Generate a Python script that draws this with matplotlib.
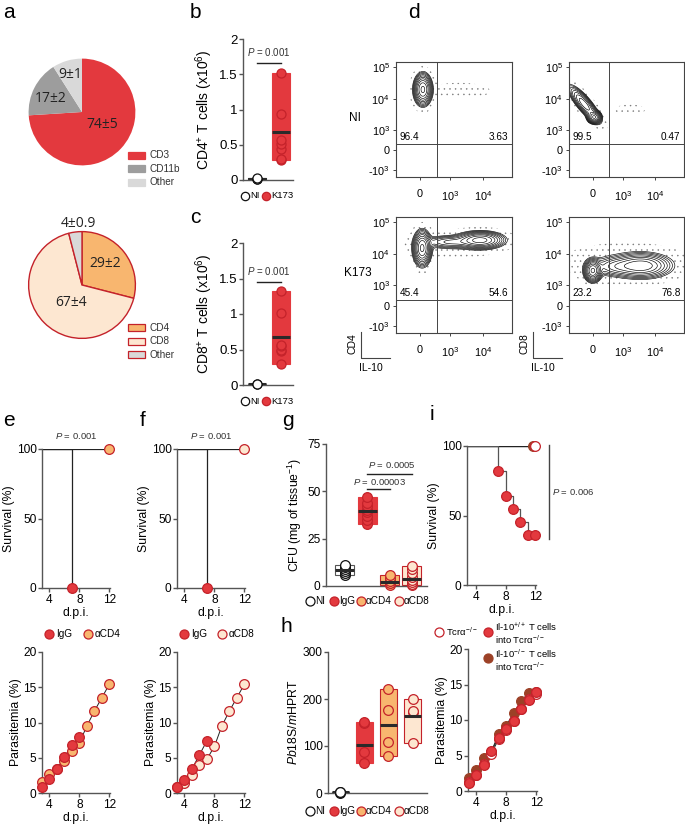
import numpy as np
import matplotlib
matplotlib.use('Agg')
import matplotlib.pyplot as plt
from matplotlib.lines import Line2D
from matplotlib.patches import Rectangle

plt.rcParams['font.family'] = ['Liberation Sans', 'DejaVu Sans']
plt.rcParams['mathtext.fontset'] = 'custom'
plt.rcParams['mathtext.rm'] = 'Liberation Sans'
plt.rcParams['mathtext.it'] = 'Liberation Sans:italic'
plt.rcParams['hatch.linewidth'] = 0.3
plt.rcParams['hatch.color'] = '#777777'

# ---------------- data ----------------
# a: pies
pie1_labels = ['CD3', 'CD11b', 'Other']
pie1_values = [74, 17, 9]
pie1_text = ['74±5', '17±2', '9±1']
pie2_labels = ['CD4', 'CD8', 'Other']
pie2_values = [29, 67, 4]
pie2_text = ['29±2', '67±4', '4±0.9']

# b, c: T cell counts (x10^6)
b_ni = [0.01, 0.02, 0.03]
b_k173 = [0.28, 0.30, 0.44, 0.51, 0.57, 0.94, 1.52]
b_med = [0.02, 0.68]
c_ni = [0.01, 0.02]
c_k173 = [0.29, 0.48, 0.50, 0.55, 0.56, 1.02, 1.33]
c_med = [0.01, 0.68]

# d: flow blobs (cx, cy, sx, sy, angle, weight) in asinh display units
flow_ni_cd4 = [(0.2, 4.35, 0.28, 0.5, 0, 1.0), (2.7, 4.25, 1.3, 0.35, 0, 0.012)]
flow_ni_cd8 = [(-0.6, 3.3, 0.75, 0.22, -51, 0.8), (0.1, 2.35, 0.22, 0.2, 0, 1.2),
               (2.6, 2.9, 1.3, 0.45, 0, 0.006)]
flow_k_cd4 = [(0.15, 4.1, 0.28, 0.55, 0, 1.0), (4.2, 4.68, 0.75, 0.28, 0, 0.75),
              (2.1, 4.55, 0.9, 0.22, 0, 0.22), (2.5, 4.4, 1.8, 0.5, 0, 0.02)]
flow_k_cd8 = [(0.0, 2.5, 0.27, 0.35, 0, 1.0), (3.4, 2.85, 0.95, 0.4, 0, 0.6),
              (1.6, 2.8, 0.8, 0.33, 0, 0.2), (2.3, 3.0, 2.2, 0.7, 0, 0.03)]
flow_quads = [('96.4', '3.63'), ('99.5', '0.47'), ('45.4', '54.6'), ('23.2', '76.8')]

# e, f: survival
km_igg_days = [3, 7]
km_igg_surv = [100, 0]
km_ab_days = [3, 12]
km_ab_surv = [100, 100]

# e, f: parasitemia
para_days = [3, 4, 5, 6, 7, 8, 9, 10, 11, 12]
e_igg = [0.8, 2.0, 3.4, 5.1, 6.8, 7.9]
e_igg_err = [0.2, 0.3, 0.3, 0.5, 0.5, 0.4]
e_cd4 = [1.5, 2.7, 3.4, 4.6, 5.9, 7.1, 9.5, 11.6, 13.5, 15.4]
e_cd4_err = [0.2, 0.3, 0.3, 0.5, 0.5, 0.5, 0.6, 0.6, 0.5, 0.4]
f_igg = [0.8, 1.9, 3.4, 5.4, 7.4]
f_igg_err = [0.2, 0.3, 0.4, 0.4, 0.4]
f_cd8 = [0.8, 1.4, 2.5, 4.0, 4.8, 6.6, 9.5, 11.6, 13.5, 15.4]
f_cd8_err = [0.2, 0.3, 0.3, 0.4, 0.4, 0.5, 0.5, 0.5, 0.4, 0.4]

# g: CFU
g_groups = ['NI', 'IgG', 'αCD4', 'αCD8']
g_vals = [[6, 7, 8, 9, 10, 11],
          [33, 35, 37, 39, 40, 42, 44, 47],
          [0.5, 1.5, 2.5, 4.0, 6.0],
          [0.3, 1.0, 2.0, 3.3, 4.5, 6.9, 9.0, 10.5]]
g_med = [8.5, 39.6, 2.3, 3.5]

# h: Pb18S/mHPRT
h_vals = [[1, 2, 3],
          [64, 88, 150, 152],
          [78, 108, 177, 221],
          [107, 172, 174, 200]]
h_med = [2, 103, 145, 163]

# i: survival
i_tcr_days = [3, 12]
i_tcr_surv = [100, 100]
i_ko_days = [3, 11.7]
i_ko_surv = [100, 100]
i_wt_days = [3, 7, 8, 9, 10, 11, 12]
i_wt_surv = [100, 82, 64, 55, 45, 36, 36]

# i: parasitemia
i_days = [3, 4, 5, 6, 7, 8, 9, 10, 11, 12]
i_ko = [1.8, 2.9, 4.6, 5.5, 8.0, 9.2, 11.0, 12.7, 13.8, 13.9]
i_tcr = [1.2, 2.3, 3.8, 5.2, 7.3, 8.6, 9.9, 11.5, 12.9, 13.7]
i_wt = [1.1, 2.2, 3.6, 5.6, 7.5, 8.8, 9.8, 11.5, 12.8, 13.9]
i_err = [0.3, 0.3, 0.4, 0.4, 0.5, 0.5, 0.5, 0.6, 0.5, 0.4]

# ---------------- colours ----------------
RED = '#e3393e'
RED_EDGE = '#c4222a'
ORANGE = '#f8b66f'
PEACH = '#fde7d1'
BROWN = '#9c4127'
GREY = '#9d9d9d'
LGREY = '#d9d9d9'
SPINE = '#555555'

TICK = 8.6
LABEL = 8.8

W, H = 685, 827
fig = plt.figure(figsize=(W / 100, H / 100), dpi=100)


def rect(x0, y0, x1, y1):
    return [x0 / W, 1 - y1 / H, (x1 - x0) / W, (y1 - y0) / H]


def ftext(x, y, s, **kw):
    fig.text(x / W, 1 - y / H, s, **kw)


def fmarker(x, y, face, edge, ms=6.5):
    fig.add_artist(Line2D([x / W], [1 - y / H], marker='o', ms=ms, mfc=face, mec=edge,
                          mew=0.9, ls='none', transform=fig.transFigure))


def style(ax, size=TICK):
    for s in ['top', 'right']:
        ax.spines[s].set_visible(False)
    for s in ['left', 'bottom']:
        ax.spines[s].set_color(SPINE)
        ax.spines[s].set_linewidth(1.0)
    ax.tick_params(length=3, width=1.0, color=SPINE, labelsize=size, pad=1)


def panel(x, y, s):
    ftext(x, y, s, fontsize=15, va='baseline', ha='left')


# ---------------- a ----------------
panel(3, 18, 'a')


def draw_pie(r, values, colors, edge, lw, texts, tpos, labels, leg_y):
    ax = fig.add_axes(rect(*r))
    ax.pie(values, colors=colors, startangle=90, counterclock=False,
           wedgeprops=dict(edgecolor=edge, linewidth=lw))
    ax.set_xlim(-1.03, 1.03)
    ax.set_ylim(-1.03, 1.03)
    ax.set_aspect('equal')
    ax.axis('off')
    for t, (tx, ty) in zip(texts, tpos):
        ax.text(tx, ty, t, ha='center', va='center', fontsize=10,
                family=['Open Sans', 'DejaVu Sans'], color='#222222', clip_on=False)
    for i, (lab, col) in enumerate(zip(labels, colors)):
        yy = leg_y + i * 13.5
        fig.add_artist(Rectangle((128 / W, 1 - (yy + 3.5) / H), 17 / W, 7 / H,
                                 facecolor=col, edgecolor=edge if lw > 0 else col,
                                 lw=0.9, transform=fig.transFigure))
        ftext(149, yy, lab, fontsize=7.2, va='center', color='#333333')


draw_pie((27, 57, 137, 167), pie1_values, [RED, GREY, LGREY], 'none', 0,
         pie1_text, [(0.38, -0.24), (-0.58, 0.25), (-0.22, 0.7)], pie1_labels, 155)
draw_pie((27, 230, 137, 340), pie2_values, [ORANGE, PEACH, LGREY], RED_EDGE, 1.0,
         pie2_text, [(0.44, 0.4), (-0.2, -0.33), (-0.07, 1.15)], pie2_labels, 328)


# ---------------- b, c ----------------
def float_group(ax, x, vals, med, face, edge, pface, pedge, width, ms, med_top=True):
    lo, hi = min(vals), max(vals)
    ax.bar(x, hi - lo, bottom=lo, width=width, color=face, edgecolor=edge,
           linewidth=0.8, zorder=2)
    ax.plot([x - width / 2, x + width / 2], [med, med], color='#2a2a2a', lw=2.2,
            zorder=5 if med_top else 3, solid_capstyle='butt')
    ax.plot([x] * len(vals), vals, 'o', ms=ms, mfc=pface, mec=pedge, mew=0.9,
            zorder=4, clip_on=False)


def counts_panel(r, ni, k173, med, ylab, p_y, lab, leg_y, letter):
    ax = fig.add_axes(rect(*r))
    style(ax, size=9.5)
    float_group(ax, 0, ni, med[0], 'white', '#222222', 'white', '#111111', 0.75, 6.5,
                med_top=False)
    float_group(ax, 1, k173, med[1], RED, RED, RED, RED_EDGE, 0.75, 6.5)
    ax.set_xlim(-0.58, 1.5)
    ax.set_ylim(0, 2)
    ax.set_yticks([0, 0.5, 1, 1.5, 2])
    ax.set_yticklabels(['0', '0.5', '1', '1.5', '2'])
    ax.set_xticks([])
    ax.set_ylabel(ylab, fontsize=10, labelpad=3)
    ax.plot([0, 1], [p_y, p_y], color='#222222', lw=1.0, clip_on=False)
    ax.text(0.5, p_y + 0.07, r'$P$ = 0.001', ha='center', va='bottom', fontsize=7,
            color='#333333')
    fmarker(245, leg_y, 'white', '#111111', ms=6)
    ftext(250, leg_y, 'NI', fontsize=6.8, va='center')
    fmarker(266, leg_y, RED, RED_EDGE, ms=6)
    ftext(271, leg_y, 'K173', fontsize=6.8, va='center')
    panel(190, lab, letter)


counts_panel((243, 39, 293, 180), b_ni, b_k173, b_med,
             r'CD4$^{+}$ T cells (x10$^{6}$)', 1.66, 18, 196, 'b')
counts_panel((243, 243, 293, 385), c_ni, c_k173, c_med,
             r'CD8$^{+}$ T cells (x10$^{6}$)', 1.45, 223, 401, 'c')

# ---------------- d ----------------
panel(408, 18, 'd')


def ux(v):
    return np.arcsinh(np.asarray(v, float) / 250)


def uy(v):
    return np.arcsinh(np.asarray(v, float) / 500)


def flow_panel(r, comps, quad):
    ax = fig.add_axes(rect(*r))
    gx = np.linspace(-1.67, 6.4, 320)
    gy = np.linspace(-2.0, 6.35, 320)
    X, Y = np.meshgrid(gx, gy)
    Z = np.zeros_like(X)
    for cx, cy, sx, sy, ang, w in comps:
        t = np.deg2rad(ang)
        dx, dy = X - cx, Y - cy
        a = dx * np.cos(t) + dy * np.sin(t)
        b = -dx * np.sin(t) + dy * np.cos(t)
        Z += w * np.exp(-0.5 * ((a / sx) ** 2 + (b / sy) ** 2))
    zm = Z.max()
    ax.contourf(X, Y, Z, levels=[zm * 0.003, zm * 0.035], colors='none',
                hatches=['...'])
    ax.contour(X, Y, Z, levels=zm * np.geomspace(0.035, 0.9, 10), colors='k',
               linewidths=0.45)
    gate_x, gate_y = 1.15, 0.43
    ax.axvline(gate_x, color='#444444', lw=0.7)
    ax.axhline(gate_y, color='#444444', lw=0.7)
    ax.text(0.03, gate_y + 0.15, quad[0], transform=ax.get_yaxis_transform(),
            fontsize=7.2, va='bottom', ha='left')
    ax.text(0.97, gate_y + 0.15, quad[1], transform=ax.get_yaxis_transform(),
            fontsize=7.2, va='bottom', ha='right')
    ax.set_xlim(-1.67, 6.4)
    ax.set_ylim(-1.95, 6.33)
    ax.set_xticks(ux([0, 1e3, 1e4]))
    ax.set_xticklabels(['0', r'10$^{3}$', r'10$^{4}$'])
    ax.set_yticks(uy([-1e3, 0, 1e3, 1e4, 1e5]))
    ax.set_yticklabels([r'-10$^{3}$', '0', r'10$^{3}$', r'10$^{4}$', r'10$^{5}$'])
    for s in ax.spines.values():
        s.set_linewidth(0.8)
        s.set_color('#444444')
    ax.tick_params(length=2.5, width=0.7, labelsize=7.8, pad=2, color='#444444')
    ax.tick_params(axis='x', pad=6)
    return ax


flow_panel((396, 62, 512, 177), flow_ni_cd4, flow_quads[0])
flow_panel((569, 62, 684, 177), flow_ni_cd8, flow_quads[1])
flow_panel((396, 217, 512, 333), flow_k_cd4, flow_quads[2])
flow_panel((569, 217, 684, 333), flow_k_cd8, flow_quads[3])
ftext(355, 118, 'NI', fontsize=8.5, ha='center', va='center')
ftext(358, 273, 'K173', fontsize=8.5, ha='center', va='center')
for x0, lab in [(361, 'CD4'), (533, 'CD8')]:
    fig.add_artist(Line2D([x0 / W, x0 / W, (x0 + 29) / W],
                          [1 - 332 / H, 1 - 358 / H, 1 - 358 / H],
                          color='#444444', lw=0.8, transform=fig.transFigure))
    ftext(x0 - 8, 344, lab, fontsize=7.5, rotation=90, ha='center', va='center')
    ftext(x0 + 10, 368, 'IL-10', fontsize=7.5, ha='center', va='center')


# ---------------- e, f ----------------
def survival_panel(r, ab_face):
    ax = fig.add_axes(rect(*r))
    style(ax)
    ax.plot(km_ab_days, km_ab_surv, drawstyle='steps-post', color='#222222', lw=0.9)
    ax.plot(km_igg_days, km_igg_surv, drawstyle='steps-post', color='#222222', lw=0.9)
    ax.plot(km_ab_days[-1], km_ab_surv[-1], 'o', ms=7, mfc=ab_face, mec=RED_EDGE,
            mew=0.9, clip_on=False, zorder=5)
    ax.plot(km_igg_days[-1], km_igg_surv[-1], 'o', ms=7, mfc=RED, mec=RED_EDGE,
            mew=0.9, clip_on=False, zorder=5)
    ax.set_xlim(3, 12.1)
    ax.set_ylim(0, 100)
    ax.set_xticks([4, 8, 12])
    ax.set_yticks([0, 50, 100])
    ax.set_ylabel('Survival (%)', fontsize=LABEL, labelpad=1)
    ax.set_xlabel('d.p.i.', fontsize=LABEL, labelpad=1)
    return ax


def para_panel(r, igg, igg_err, ab, ab_err, ab_face):
    ax = fig.add_axes(rect(*r))
    style(ax)
    for vals, err, face in [(ab, ab_err, ab_face), (igg, igg_err, RED)]:
        d = para_days[:len(vals)]
        ax.errorbar(d, vals, yerr=err, color='#222222', lw=0.7, elinewidth=0.7,
                    capsize=0, zorder=3)
        ax.plot(d, vals, 'o', ms=7, mfc=face, mec=RED_EDGE, mew=0.9, zorder=4,
                clip_on=False)
    ax.set_xlim(3, 12.1)
    ax.set_ylim(0, 20)
    ax.set_xticks([4, 8, 12])
    ax.set_yticks([0, 5, 10, 15, 20])
    ax.set_ylabel('Parasitemia (%)', fontsize=LABEL, labelpad=1)
    ax.set_xlabel('d.p.i.', fontsize=LABEL, labelpad=1)
    return ax


panel(3, 426, 'e')
survival_panel((42, 449, 110, 588), ORANGE)
ftext(76, 436, r'$P$ = 0.001', fontsize=6.8, ha='center', va='center', color='#333333')
para_panel((42, 652, 110, 793), e_igg, e_igg_err, e_cd4, e_cd4_err, ORANGE)
fmarker(49, 634, RED, RED_EDGE)
ftext(56, 634, 'IgG', fontsize=7.2, va='center')
fmarker(88, 634, ORANGE, RED_EDGE)
ftext(95, 634, 'αCD4', fontsize=7.2, va='center')

panel(140, 426, 'f')
survival_panel((177, 449, 245, 588), PEACH)
ftext(211, 436, r'$P$ = 0.001', fontsize=6.8, ha='center', va='center', color='#333333')
para_panel((177, 652, 245, 793), f_igg, f_igg_err, f_cd8, f_cd8_err, PEACH)
fmarker(184, 634, RED, RED_EDGE)
ftext(191, 634, 'IgG', fontsize=7.2, va='center')
fmarker(222, 634, PEACH, RED_EDGE)
ftext(229, 634, 'αCD8', fontsize=7.2, va='center')

# ---------------- g, h ----------------
group_style = [('white', '#555555', 'white', '#111111'),
               (RED, RED, RED, RED_EDGE),
               (ORANGE, RED_EDGE, ORANGE, RED_EDGE),
               (PEACH, RED_EDGE, PEACH, RED_EDGE)]


def group_legend(y):
    xs = [310, 334, 361, 399]
    for x, (bf, be, pf, pe), g in zip(xs, group_style, g_groups):
        fmarker(x, y, pf, pe, ms=6.5)
        ftext(x + 5, y, g, fontsize=7.2, va='center')


panel(282, 426, 'g')
ax = fig.add_axes(rect(326, 444, 427, 586))
style(ax)
for i, (vals, med, st) in enumerate(zip(g_vals, g_med, group_style)):
    float_group(ax, i, vals, med, st[0], st[1], st[2], st[3], 0.85, 7)
ax.set_xlim(-0.85, 3.68)
ax.set_ylim(0, 75)
ax.set_xticks([])
ax.set_yticks([0, 25, 50, 75])
ax.set_ylabel(r'CFU (mg of tissue$^{-1}$)', fontsize=LABEL, labelpad=2)
ax.plot([1, 2], [51, 51], color='#222222', lw=1.0, clip_on=False)
ax.plot([1, 3], [59, 59], color='#222222', lw=1.0, clip_on=False)
ax.text(1.57, 52.5, r'$P$ = 0.00003', ha='center', va='bottom', fontsize=6.8,
        color='#333333')
ax.text(2.1, 61.5, r'$P$ = 0.0005', ha='center', va='bottom', fontsize=6.8,
        color='#333333')
group_legend(601)

panel(280, 632, 'h')
ax = fig.add_axes(rect(328, 652, 427, 793))
style(ax)
for i, (vals, med, st) in enumerate(zip(h_vals, h_med, group_style)):
    float_group(ax, i, vals, med, st[0], st[1], st[2], st[3], 0.7, 7,
                med_top=(i != 0))
ax.set_xlim(-0.5, 3.6)
ax.set_ylim(0, 300)
ax.set_xticks([])
ax.set_yticks([0, 100, 200, 300])
ax.set_ylabel(r'$Pb$18S/$m$HPRT', fontsize=LABEL, labelpad=2)
group_legend(811)

# ---------------- i ----------------
panel(430, 420, 'i')
ax = fig.add_axes(rect(467, 446, 536, 585))
style(ax)
ax.plot(i_ko_days, i_ko_surv, drawstyle='steps-post', color='#222222', lw=0.9)
ax.plot(i_tcr_days, i_tcr_surv, drawstyle='steps-post', color='#222222', lw=0.9)
ax.plot(i_wt_days, i_wt_surv, drawstyle='steps-post', color='#555555', lw=0.9)
ax.plot(i_ko_days[-1], i_ko_surv[-1], 'o', ms=7, mfc=BROWN, mec=BROWN, mew=0.9,
        clip_on=False, zorder=5)
ax.plot(i_tcr_days[-1], i_tcr_surv[-1], 'o', ms=7, mfc='white', mec=RED_EDGE, mew=0.9,
        clip_on=False, zorder=6)
ax.plot(i_wt_days[1:], i_wt_surv[1:], 'o', ms=7, mfc=RED, mec=RED_EDGE, mew=0.9,
        clip_on=False, zorder=5, ls='none')
ax.set_xlim(2.8, 12.1)
ax.set_ylim(0, 100)
ax.set_xticks([4, 8, 12])
ax.set_yticks([0, 50, 100])
ax.set_ylabel('Survival (%)', fontsize=LABEL, labelpad=1)
ax.set_xlabel('d.p.i.', fontsize=LABEL, labelpad=1)
ax.plot([13.9, 13.9], [101, 33], color='#444444', lw=1.0, clip_on=False)
ax.text(14.3, 67, r'$P$ = 0.006', fontsize=6.8, va='center', ha='left',
        color='#333333')

ax = fig.add_axes(rect(468, 649, 537, 791))
style(ax)
for vals, face, edge in [(i_ko, BROWN, BROWN), (i_tcr, 'white', RED_EDGE),
                         (i_wt, RED, RED_EDGE)]:
    ax.errorbar(i_days, vals, yerr=i_err, color='#222222', lw=0.7, elinewidth=0.7,
                capsize=0, zorder=3)
    ax.plot(i_days, vals, 'o', ms=7, mfc=face, mec=edge, mew=0.9, zorder=4,
            clip_on=False)
ax.set_xlim(2.93, 12.1)
ax.set_ylim(0, 20)
ax.set_xticks([4, 8, 12])
ax.set_yticks([0, 5, 10, 15, 20])
ax.set_ylabel('Parasitemia (%)', fontsize=LABEL, labelpad=1)
ax.set_xlabel('d.p.i.', fontsize=LABEL, labelpad=1)

fmarker(439, 632, 'white', RED_EDGE)
ftext(446, 632, r'Tcrα$^{-/-}$', fontsize=6.8, va='center')
fmarker(488, 632, RED, RED_EDGE)
ftext(495, 633, 'Il-10$^{+/+}$ T cells\ninto Tcrα$^{-/-}$', fontsize=6.8, va='center',
      linespacing=1.0)
fmarker(488, 658, BROWN, BROWN)
ftext(495, 660, 'Il-10$^{-/-}$ T cells\ninto Tcrα$^{-/-}$', fontsize=6.8, va='center',
      linespacing=1.0)

fig.savefig('out.png', dpi=100)
